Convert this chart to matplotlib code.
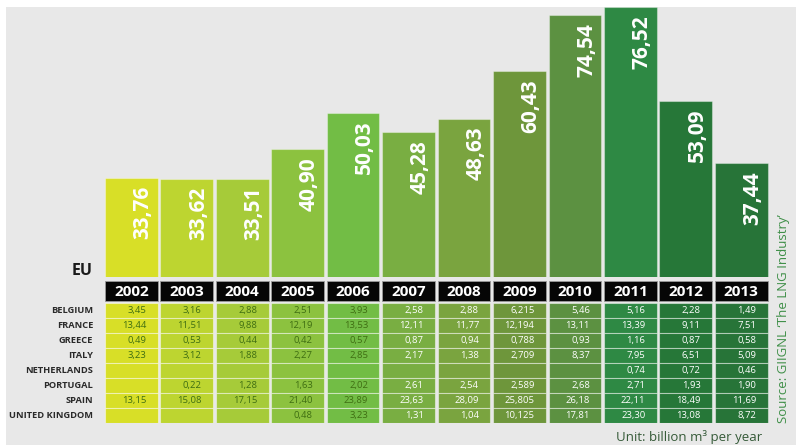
import matplotlib
matplotlib.use("Agg")
import matplotlib.pyplot as plt
from matplotlib.patches import Rectangle

plt.rcParams['font.family'] = ['Open Sans', 'DejaVu Sans']

# EU LNG imports, billion m3 per year
years = ['2002', '2003', '2004', '2005', '2006', '2007',
         '2008', '2009', '2010', '2011', '2012', '2013']
eu_total = [33.76, 33.62, 33.51, 40.90, 50.03, 45.28,
            48.63, 60.43, 74.54, 76.52, 53.09, 37.44]

countries = ['BELGIUM', 'FRANCE', 'GREECE', 'ITALY', 'NETHERLANDS',
             'PORTUGAL', 'SPAIN', 'UNITED KINGDOM']
belgium = ['3,45', '3,16', '2,88', '2,51', '3,93', '2,58', '2,88', '6,215', '5,46', '5,16', '2,28', '1,49']
france = ['13,44', '11,51', '9,88', '12,19', '13,53', '12,11', '11,77', '12,194', '13,11', '13,39', '9,11', '7,51']
greece = ['0,49', '0,53', '0,44', '0,42', '0,57', '0,87', '0,94', '0,788', '0,93', '1,16', '0,87', '0,58']
italy = ['3,23', '3,12', '1,88', '2,27', '2,85', '2,17', '1,38', '2,709', '8,37', '7,95', '6,51', '5,09']
netherlands = ['', '', '', '', '', '', '', '', '', '0,74', '0,72', '0,46']
portugal = ['', '0,22', '1,28', '1,63', '2,02', '2,61', '2,54', '2,589', '2,68', '2,71', '1,93', '1,90']
spain = ['13,15', '15,08', '17,15', '21,40', '23,89', '23,63', '28,09', '25,805', '26,18', '22,11', '18,49', '11,69']
uk = ['', '', '', '0,48', '3,23', '1,31', '1,04', '10,125', '17,81', '23,30', '13,08', '8,72']
table_rows = [belgium, france, greece, italy, netherlands, portugal, spain, uk]

colors = ['#d8df27', '#bdd530', '#a6cb39', '#8cc23f', '#72bd45', '#79ae42',
          '#7aa43f', '#6e963b', '#5c9141', '#2e8944', '#267738', '#277438']
cell_text = ['#3f6e12'] * 5 + ['white'] * 7

W, H = 796, 445
fig = plt.figure(figsize=(W / 100, H / 100), dpi=100, facecolor='white')
fig.patches.append(Rectangle((6 / W, 0), 1, 1 - 7 / H, transform=fig.transFigure,
                             facecolor='#e8e8e8', edgecolor='none', zorder=-10))

x = list(range(len(years)))
bw = 0.95

# bars
ax = fig.add_axes([103.6 / W, (H - 277) / H, 665.4 / W, 270 / H])
ax.set_xlim(-0.5, 11.5)
ax.set_ylim(9.0, 76.52)
ax.axis('off')
ax.bar(x, eu_total, width=bw, color=colors, edgecolor=(1, 1, 1, 0.35), linewidth=0.8)
for i, v in enumerate(eu_total):
    ax.text(i + 0.21, v - 2.0, f"{v:.2f}".replace('.', ','), rotation=90,
            ha='center', va='top', color='white', fontsize=15, fontweight='bold')
ax.text(-0.69, 9.5, 'EU', ha='right', va='baseline', fontsize=11.5,
        fontweight='bold', color='#1a1a1a', clip_on=False)

# table
tx = fig.add_axes([103.6 / W, (H - 423) / H, 665.4 / W, 142 / H])
tx.set_xlim(-0.5, 11.5)
tx.set_ylim(142, 0)
tx.axis('off')
head_h, gap, row_h = 20, 2, 15
tx.bar(x, head_h, bottom=0, width=bw, color='#060606', edgecolor='#9a9a9a', linewidth=0.6)
for i, yr in enumerate(years):
    tx.text(i, head_h / 2 + 0.5, yr, ha='center', va='center', color='white',
            fontsize=11, fontweight='bold')

for r, (name, vals) in enumerate(zip(countries, table_rows)):
    top = head_h + gap + r * row_h
    tx.bar(x, row_h, bottom=top, width=bw, color=colors,
           edgecolor=(1, 1, 1, 0.45), linewidth=0.8)
    tx.text(-0.69, top + row_h / 2, name, ha='right', va='center', fontsize=6.7,
            fontweight='bold', color='#2a2a2a', clip_on=False)
    for i, s in enumerate(vals):
        if s:
            tx.text(i + 0.27, top + row_h / 2, s, ha='right', va='center',
                    fontsize=6.8, color=cell_text[i])

fig.text(762 / W, 1 - 437 / H, 'Unit: billion m\u00b3 per year', ha='right', va='center',
         fontsize=9.5, color='#355a38')
fig.text(784 / W, 1 - 423 / H, 'Source: GIIGNL \u2018The LNG Industry\u2019', rotation=90,
         ha='center', va='bottom', fontsize=9.5, color='#3f8f48')

fig.savefig('out.png', dpi=100, facecolor='white')
